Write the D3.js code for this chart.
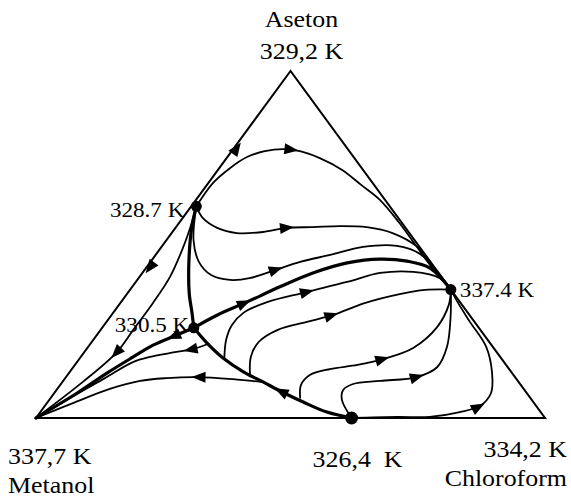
<!DOCTYPE html>
<html>
<head>
<meta charset="utf-8">
<script src="https://cdn.jsdelivr.net/npm/d3@7"></script>
<style>
  body { margin: 0; background: #fff; }
  text { font-family: "Liberation Serif", "Times New Roman", serif; fill: #000; white-space: pre; }
</style>
</head>
<body>
<script>
// compositions are [x_chloroform, x_aseton], metanol is what is left
const vertices = [
    { name: 'Aseton', temp: '329,2 K', comp: [0, 1] },
    { name: 'Metanol', temp: '337,7 K', comp: [0, 0] },
    { name: 'Chloroform', temp: '334,2 K', comp: [1, 0] }
];

const azeotropes = [
    { temp: '328.7 K', comp: [0.01, 0.61] },
    { temp: '330.5 K', comp: [0.18, 0.26] },
    { temp: '337.4 K', comp: [0.63, 0.37] },
    { temp: '326,4  K', comp: [0.62, 0] }
];

// separatrices (bold)
const sep1 = [[0.01, 0.61], [0.031, 0.55], [0.073, 0.455], [0.121, 0.36], [0.155, 0.303], [0.18, 0.26]];
const sep2 = [[0.62, 0], [0.563, 0.017], [0.502, 0.046], [0.446, 0.075], [0.394, 0.104], [0.341, 0.133], [0.281, 0.173], [0.228, 0.216], [0.18, 0.26]];
const sep3 = [[0.18, 0.26], [0.157, 0.239], [0.125, 0.21], [0.103, 0.176], [0.075, 0.13], [0.045, 0.072], [0, 0]];
const sep4 = [[0.18, 0.26], [0.208, 0.297], [0.247, 0.334], [0.29, 0.378], [0.335, 0.418], [0.388, 0.447], [0.447, 0.458], [0.503, 0.452], [0.558, 0.432], [0.63, 0.37]];

// residue curves (thin)
const curveB = [[0.01, 0.61], [0.009, 0.677], [0.021, 0.72], [0.0385, 0.752], [0.065, 0.769], [0.098, 0.775], [0.134, 0.769], [0.183, 0.749], [0.244, 0.715], [0.304, 0.671], [0.362, 0.628], [0.43, 0.565], [0.50, 0.495], [0.565, 0.43], [0.63, 0.37]];
const curveC = [[0.01, 0.61], [0.04, 0.576], [0.082, 0.548], [0.128, 0.533], [0.178, 0.536], [0.219, 0.548], [0.269, 0.55], [0.32, 0.553], [0.375, 0.55], [0.434, 0.533], [0.503, 0.493], [0.558, 0.441], [0.63, 0.37]];
const curveD = [[0.01, 0.61], [0.053, 0.513], [0.095, 0.45], [0.138, 0.412], [0.182, 0.398], [0.218, 0.403], [0.257, 0.427], [0.294, 0.45], [0.343, 0.47], [0.396, 0.493], [0.461, 0.496], [0.518, 0.473], [0.578, 0.421], [0.63, 0.37]];
const curveF = [[0.285, 0.17], [0.261, 0.225], [0.251, 0.268], [0.256, 0.303], [0.287, 0.334], [0.35, 0.363], [0.415, 0.392], [0.467, 0.418], [0.531, 0.421], [0.592, 0.403], [0.63, 0.37]];
const curveG = [[0.358, 0.125], [0.334, 0.176], [0.328, 0.219], [0.348, 0.254], [0.394, 0.277], [0.435, 0.297], [0.48, 0.331], [0.536, 0.357], [0.58, 0.369], [0.63, 0.37]];
const curveH = [[0.49, 0.058], [0.473, 0.095], [0.476, 0.124], [0.507, 0.141], [0.555, 0.153], [0.597, 0.17], [0.64, 0.202], [0.657, 0.262], [0.648, 0.326], [0.63, 0.37]];
const curveI = [[0.62, 0], [0.575, 0.052], [0.563, 0.081], [0.574, 0.098], [0.623, 0.107], [0.689, 0.118], [0.715, 0.147], [0.705, 0.205], [0.669, 0.291], [0.63, 0.37]];
const curveJ = [[0.62, 0], [0.709, 0.003], [0.772, 0.003], [0.824, 0.017], [0.855, 0.035], [0.858, 0.072], [0.831, 0.13], [0.782, 0.205], [0.714, 0.277], [0.664, 0.331], [0.63, 0.37]];
const curveA = [[0.01, 0.61], [0.029, 0.548], [0.045, 0.484], [0.06, 0.406], [0.064, 0.331], [0.064, 0.254], [0.064, 0.19], [0.04, 0.104], [0, 0]];
const curveK = [[0.232, 0.214], [0.209, 0.199], [0.169, 0.187], [0.136, 0.176], [0.11, 0.161], [0.078, 0.115], [0.038, 0.058], [0, 0]];
const curveL = [[0.39, 0.104], [0.331, 0.112], [0.257, 0.118], [0.199, 0.115], [0.151, 0.107], [0.103, 0.084], [0.051, 0.043], [0, 0]];
// parts of the aseton-metanol side that carry arrows
const edgeUp = [[0.01, 0.61], [0, 1]];
const edgeDown = [[0.01, 0.61], [0, 0]];

const flows = [
    { pts: sep1, bold: true, arrow: null },
    { pts: sep2, bold: true, arrow: 0.41 },
    { pts: sep3, bold: true, arrow: 0.12 },
    { pts: sep4, bold: true, arrow: 0.2 },
    { pts: curveA, bold: false, arrow: 0.62 },
    { pts: curveB, bold: false, arrow: 0.35 },
    { pts: curveC, bold: false, arrow: 0.35 },
    { pts: curveD, bold: false, arrow: 0.42 },
    { pts: curveF, bold: false, arrow: 0.44 },
    { pts: curveG, bold: false, arrow: 0.48 },
    { pts: curveH, bold: false, arrow: 0.49 },
    { pts: curveI, bold: false, arrow: 0.51 },
    { pts: curveJ, bold: false, arrow: 0.49 },
    { pts: curveK, bold: false, arrow: 0.1 },
    { pts: curveL, bold: false, arrow: 0.27 }
];

const width = 571, height = 499;

const svg = d3.select('body').append('svg')
    .attr('width', width)
    .attr('height', height);

const x = d3.scaleLinear().domain([0, 1]).range([36, 545]);
const y = d3.scaleLinear().domain([0, 1]).range([418, 71]);

// ternary -> screen
function px(d) { return x(d[0] + d[1] / 2); }
function py(d) { return y(d[1]); }

const line = d3.line().x(px).y(py).curve(d3.curveCatmullRom.alpha(0.5));
const straight = d3.line().x(px).y(py);

const g = svg.append('g');

// triangle
g.append('path')
    .attr('d', straight(vertices.map(v => v.comp)) + 'Z')
    .attr('fill', 'none')
    .attr('stroke', '#000')
    .attr('stroke-width', 2)
    .attr('stroke-linejoin', 'miter');

function drawArrow(node, t) {
    const L = node.getTotalLength();
    const s = t * L;
    const p0 = node.getPointAtLength(Math.max(0, s - 3));
    const p1 = node.getPointAtLength(Math.min(L, s + 3));
    const p = node.getPointAtLength(s);
    const ang = Math.atan2(p1.y - p0.y, p1.x - p0.x) * 180 / Math.PI;
    g.append('path')
        .attr('d', 'M7,0L-7,-5.5L-7,5.5Z')
        .attr('fill', '#000')
        .attr('transform', `translate(${p.x},${p.y}) rotate(${ang})`);
}

// arrows on the left side
[[edgeUp, 0.43], [edgeDown, 0.29]].forEach(([pts, t]) => {
    const p = g.append('path')
        .attr('d', straight(pts))
        .attr('fill', 'none')
        .attr('stroke', 'none');
    drawArrow(p.node(), t);
});

flows.forEach(f => {
    const p = g.append('path')
        .attr('d', line(f.pts))
        .attr('fill', 'none')
        .attr('stroke', '#000')
        .attr('stroke-width', f.bold ? 3.2 : 1.8)
        .attr('stroke-linecap', 'round');
    if (f.arrow !== null) drawArrow(p.node(), f.arrow);
});

// azeotrope points
g.selectAll('.az')
    .data(azeotropes)
    .enter()
    .append('circle')
    .attr('class', 'az')
    .attr('cx', d => px(d.comp))
    .attr('cy', d => py(d.comp))
    .attr('r', (d, i) => i === 3 ? 6.5 : 5.5)
    .attr('fill', '#000');

// labels
function label(txt, tx, ty, anchor, size, sx) {
    g.append('text')
        .attr('transform', `translate(${tx},${ty}) scale(${sx},1)`)
        .attr('text-anchor', anchor)
        .style('font-size', size + 'px')
        .text(txt);
}

const A = vertices[0].comp, M = vertices[1].comp, C = vertices[2].comp;
label(vertices[0].name, px(A) + 11, py(A) - 44, 'middle', 24, 1.08);
label(vertices[0].temp, px(A) + 11, py(A) - 12, 'middle', 24, 1.08);
label(vertices[1].temp, px(M) - 28, py(M) + 46, 'start', 24, 1.08);
label(vertices[1].name, px(M) - 28, py(M) + 75, 'start', 24, 1.08);
label(vertices[2].temp, px(C) + 22, py(C) + 39, 'end', 24, 1.08);
label(vertices[2].name, px(C) + 22, py(C) + 68, 'end', 24, 1.08);

const offs = [[-12, 11, 'end'], [-79, 4, 'start'], [9, 7, 'start'], [-39, 49, 'start']];
azeotropes.forEach((d, i) => {
    label(d.temp, px(d.comp) + offs[i][0], py(d.comp) + offs[i][1], offs[i][2], i === 3 ? 24 : 22, i === 3 ? 1.08 : 1.05);
});
</script>
</body>
</html>
